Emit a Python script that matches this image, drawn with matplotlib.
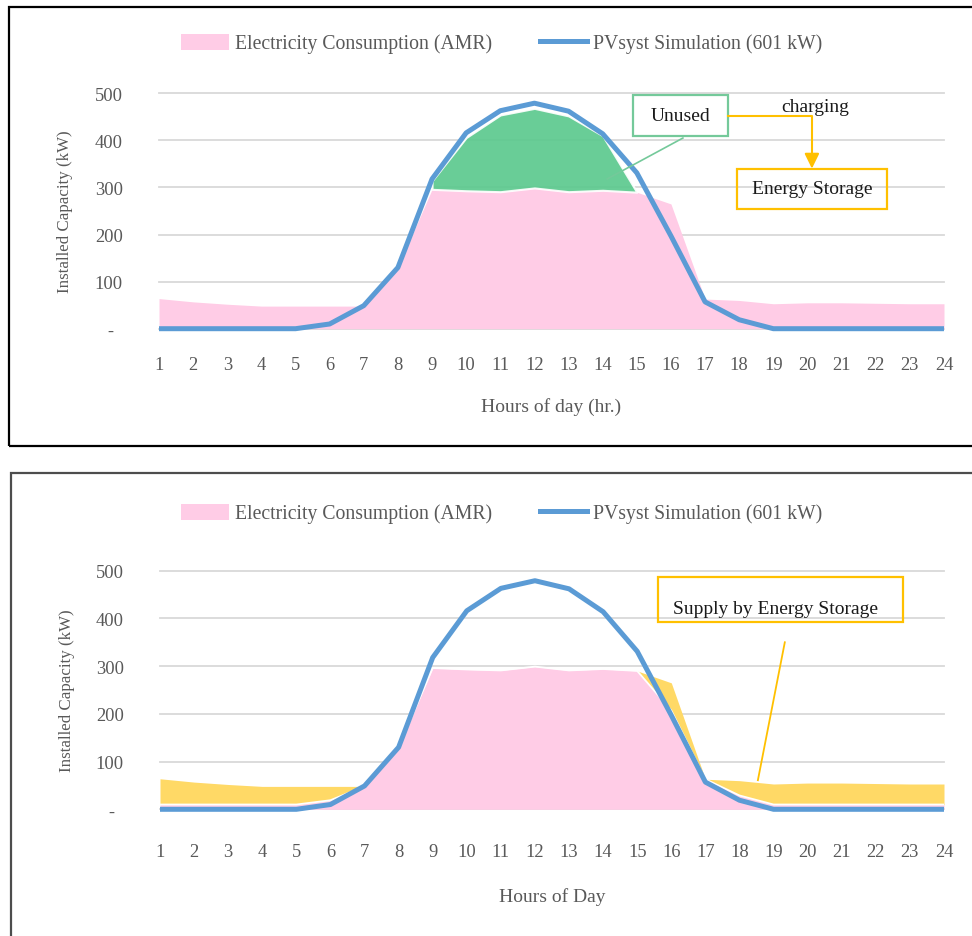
import matplotlib
matplotlib.use("Agg")
import matplotlib.pyplot as plt
from matplotlib.patches import Rectangle, Patch
from matplotlib.lines import Line2D
import numpy as np

plt.rcParams['font.family'] = ['Liberation Serif', 'DejaVu Serif']

hours = list(range(1, 25))

# hourly load from the AMR meter (kW)
consumption = [64, 57, 52, 48, 48, 48, 48, 130, 296, 293, 291, 299,
               291, 294, 290, 265, 63, 60, 53, 55, 55, 54, 53, 53]
# PVsyst output of the 601 kW array (kW)
pv_output = [0, 0, 0, 0, 0, 10, 49, 130, 318, 416, 463, 479,
             462, 414, 331, 197, 57, 19, 0, 0, 0, 0, 0, 0]
# PV surplus around noon, not used by the load (kW)
unused_hours = [9, 10, 11, 12, 13, 14, 15]
unused = [18, 113, 163, 169, 161, 116, 0]
# part of the load covered by the battery (kW)
storage_supply = [54, 47, 42, 38, 38, 29, 0, 0, 0, 0, 0, 0,
                  0, 0, 0, 58, 0, 31, 43, 45, 45, 44, 43, 43]

ytick_vals = [0, 100, 200, 300, 400, 500]
ytick_labels = ['-  ', '100', '200', '300', '400', '500']

PINK = '#FFCCE6'
BLUE = '#5B9BD5'
GREEN = '#5CC98E'
GOLD = '#FFD966'
AMBER = '#FFC000'
GREY = '#595959'

W, H = 972, 937
fig = plt.figure(figsize=(W / 100, H / 100), dpi=100)


def px_axes(left, top, right, bottom):
    return fig.add_axes([left / W, 1 - bottom / H, (right - left) / W, (bottom - top) / H])


def setup(ax, xlabel, xpad, labelpad):
    ax.set_xlim(1, 24)
    ax.set_ylim(0, 500)
    ax.set_xticks(hours)
    ax.set_yticks(ytick_vals)
    ax.set_yticklabels(ytick_labels)
    ax.grid(axis='y', color='#D9D9D9', lw=1.3, zorder=0)
    ax.grid(axis='x', visible=False)
    for gl in ax.get_ygridlines():
        gl.set_clip_on(False)
    ax.set_axisbelow(True)
    for s in ax.spines.values():
        s.set_visible(False)
    ax.tick_params(length=0, labelsize=13.3, labelcolor=GREY)
    ax.tick_params(axis='y', pad=26)
    ax.tick_params(axis='x', pad=xpad)
    ax.set_xlabel(xlabel, fontsize=14, color=GREY, labelpad=labelpad)
    ax.set_ylabel('Installed Capacity (kW)', fontsize=12.2, color=GREY)
    ax.yaxis.set_label_coords(-0.109, 0.5)


def legend(ax, ycenter):
    handles = [Patch(facecolor=PINK, edgecolor='none'),
               Line2D([], [], color=BLUE, lw=3.6)]
    ax.legend(handles, ['Electricity Consumption (AMR)', 'PVsyst Simulation (601 kW)'],
              loc='center', bbox_to_anchor=(502 / W, 1 - ycenter / H),
              bbox_transform=fig.transFigure, ncol=2, frameon=False,
              fontsize=14.2, labelcolor=GREY, handlelength=2.4,
              handletextpad=0.3, columnspacing=2.45, handleheight=0.9)


# frames around the two panels
fig.add_artist(Rectangle((9 / W, 1 - 446.5 / H), 980 / W, 438.5 / H, fill=False,
                         ec='black', lw=1.6, transform=fig.transFigure))
fig.add_artist(Rectangle((11 / W, 1 - 950 / H), 980 / W, 476 / H, fill=False,
                         ec='#4D4D4D', lw=1.6, transform=fig.transFigure))

# ---- top: PV surplus goes to charging ----
ax1 = px_axes(159, 94.3, 944, 329.7)
setup(ax1, 'Hours of day (hr.)', 20, 17)

cons = np.array(consumption)
ax1.fill_between(hours, 0, cons, color=PINK, lw=0, zorder=2)
base = cons[np.array(unused_hours) - 1]
ax1.fill_between(unused_hours, base, base + np.array(unused), facecolor=GREEN,
                 edgecolor='white', lw=1.5, alpha=0.92, zorder=3)
ax1.plot(hours, pv_output, color=BLUE, lw=3.6, solid_joinstyle='round',
         solid_capstyle='butt', clip_on=False, zorder=4)
legend(ax1, 44.5)

ax1.add_patch(Rectangle((14.89, 409), 2.78, 87, fill=False, ec='#74C99A', lw=1.6,
                        clip_on=False, zorder=5))
ax1.text(16.28, 453, 'Unused', ha='center', va='center', fontsize=14, color='#1A1A1A')
ax1.plot([16.35, 14.13], [405, 318], color='#74C99A', lw=1.2, zorder=5)
ax1.plot([17.67, 20.13, 20.13], [451.6, 451.6, 362], color=AMBER, lw=1.5,
         clip_on=False, zorder=5)
ax1.annotate('', xy=(20.13, 340), xytext=(20.13, 365),
             arrowprops=dict(arrowstyle='-|>,head_length=0.45,head_width=0.22',
                             color=AMBER, lw=1.5, mutation_scale=20, shrinkA=0, shrinkB=0))
ax1.text(20.22, 471, 'charging', ha='center', va='center', fontsize=14, color='#1A1A1A')
ax1.add_patch(Rectangle((17.94, 254), 4.39, 85, fill=False, ec=AMBER, lw=1.6,
                        clip_on=False, zorder=5))
ax1.text(20.13, 297, 'Energy Storage', ha='center', va='center', fontsize=14, color='#1A1A1A')

# ---- bottom: battery supplies the load when PV is short ----
ax2 = px_axes(160, 571.7, 944, 810.3)
setup(ax2, 'Hours of Day', 24, 20)

direct = cons - np.array(storage_supply)
ax2.fill_between(hours, 0, direct, color=PINK, lw=0, zorder=2)
ax2.fill_between(hours, direct, cons, color=GOLD, lw=0, zorder=2)
ax2.plot(hours, direct, color='white', lw=1.3, zorder=3)
ax2.plot(hours, pv_output, color=BLUE, lw=3.6, solid_joinstyle='round',
         solid_capstyle='butt', clip_on=False, zorder=4)
legend(ax2, 514.5)

ax2.add_patch(Rectangle((15.61, 392), 7.19, 94, fill=False, ec=AMBER, lw=1.6,
                        clip_on=False, zorder=5))
ax2.text(19.07, 420, 'Supply by Energy Storage', ha='center', va='center',
         fontsize=14, color='#1A1A1A')
ax2.plot([19.33, 18.54], [350, 61], color=AMBER, lw=1.3, zorder=5)

fig.savefig('out.png', dpi=100)
